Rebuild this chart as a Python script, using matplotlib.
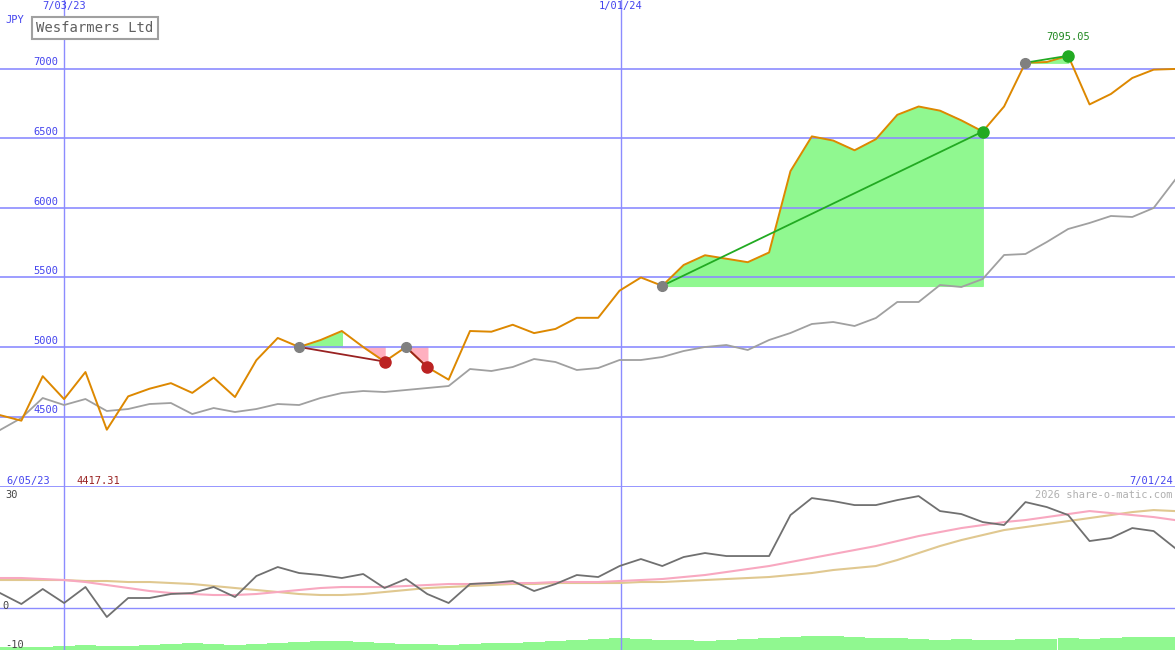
import matplotlib.pyplot as plt
import numpy as np

# price (orange) and index (grey), one point per ~1.6 weeks
price = [4510, 4470, 4790, 4625, 4820, 4405, 4645, 4700, 4740, 4670,
         4780, 4640, 4905, 5065, 5000, 5050, 5115, 5000, 4895, 5000,
         4855, 4765, 5115, 5110, 5160, 5100, 5130, 5210, 5210, 5405,
         5500, 5440, 5590, 5660, 5635, 5610, 5680, 6265, 6515, 6485,
         6415, 6495, 6670, 6730, 6700, 6630, 6550, 6730, 7045, 7050,
         7095, 6745, 6820, 6935, 6995, 7000]
index_px = [430, 418, 398, 405, 399, 411, 409, 404, 403, 414, 408, 412, 409, 404,
            405, 398, 393, 391, 392, 390, 388, 386, 369, 371, 367, 359, 362, 370,
            368, 360, 360, 357, 351, 347, 345, 350, 340, 333, 324, 322, 326, 318,
            302, 302, 285, 287, 279, 255, 254, 242, 229, 223, 216, 217, 208, 180]
index_line = [7000 - (y - 69) * 500 / 69.5 for y in index_px]

osc_px = [593, 604, 589, 603, 587, 617, 598, 598, 594, 593, 587, 597, 576, 567,
          573, 575, 578, 574, 588, 579, 594, 603, 584, 583, 581, 591, 584, 575,
          577, 566, 559, 566, 557, 553, 556, 556, 556, 515, 498, 501, 505, 505,
          500, 496, 511, 514, 522, 525, 502, 507, 515, 541, 538, 528, 531, 548]
pink_px = [578, 578, 579, 580, 582, 585, 588, 591, 593, 594, 595, 595, 594, 592,
           590, 588, 587, 587, 587, 586, 585, 584, 584, 583, 583, 583, 582, 582,
           582, 581, 580, 579, 577, 575, 572, 569, 566, 562, 558, 554, 550, 546,
           541, 536, 532, 528, 525, 522, 520, 517, 514, 511, 513, 515, 517, 520]
tan_px = [580, 580, 580, 580, 581, 581, 582, 582, 583, 584, 586, 588, 590, 592,
          594, 595, 595, 594, 592, 590, 588, 587, 586, 585, 584, 584, 583, 583,
          583, 583, 582, 582, 581, 580, 579, 578, 577, 575, 573, 570, 568, 566,
          560, 553, 546, 540, 535, 530, 527, 524, 521, 518, 515, 512, 510, 511]
volume = [3, 3, 3, 4, 5, 4, 4, 5, 6, 7, 6, 5, 6, 7, 8, 9, 9, 8, 7, 6, 6, 5, 6, 7,
          7, 8, 9, 10, 11, 12, 11, 10, 10, 9, 10, 11, 12, 13, 14, 14, 13, 12, 12,
          11, 10, 11, 10, 10, 11, 11, 12, 11, 12, 13, 13, 13]

def osc_val(y):
    return (604 - y) / 3.625

osc = [osc_val(y) for y in osc_px]
pink = [osc_val(y) for y in pink_px]
tan = [osc_val(y) for y in tan_px]

n = len(price)
x = np.arange(n)
grid_c = "#8c8cff"
lab_c = "#4444ee"
mono = "DejaVu Sans Mono"

fig = plt.figure(figsize=(11.75, 6.5), dpi=100)
ax = fig.add_axes([0, 163 / 650, 1, 487 / 650])
ax2 = fig.add_axes([0, 0, 1, 163 / 650])
for a in (ax, ax2):
    a.set_xlim(0, n - 1)
    a.axis("off")
    for xv in (3, 29.05):
        a.axvline(xv, color=grid_c, lw=1)

ax.set_ylim(3993, 7496)
for lv in (4500, 5000, 5500, 6000, 6500, 7000):
    ax.axhline(lv, color=grid_c, lw=1.2)
    ax.text(1.55, lv + 25, str(lv), color=lab_c, fontsize=7.5, family=mono)
ax.axhline(3993, color=grid_c, lw=2)

# trade fills
ax.fill_between(x[31:47], 5440, price[31:47], color="#90f890")
ax.fill_between(x[14:17], 5000, price[14:17], color="#90f890")
ax.fill_between(x[48:51], 7045, price[48:51], color="#90f890")
ax.fill_between(x[16:19], np.minimum(price[16:19], 5000), 5000, color="#ffb0c0")
ax.fill_between(x[19:21], np.minimum(price[19:21], 5000), 5000, color="#ffb0c0")

ax.plot(x, index_line, color="#a0a0a0", lw=1.3)
ax.plot(x, price, color="#dd8800", lw=1.4)

trades = [(14, 18, "#992222"), (19, 20, "#992222"), (31, 46, "#22aa22"), (48, 50, "#22aa22")]
for s, e, c in trades:
    ax.plot([s, e], [price[s], price[e]], color=c, lw=1.3)
    ax.plot(s, price[s], "o", color="#808080", ms=7)
    ax.plot(e, price[e], "o", color="#bb2222" if c == "#992222" else "#22aa22", ms=8)

ax.text(50, 7210, "7095.05", color="#228822", fontsize=7.5, ha="center", family=mono)
ax.text(0.25, 7330, "JPY", color=lab_c, fontsize=7.5, family=mono)
ax.text(3, 7430, "7/03/23", color=lab_c, fontsize=7.5, ha="center", family=mono)
ax.text(29.05, 7430, "1/01/24", color=lab_c, fontsize=7.5, ha="center", family=mono)
ax.text(1.7, 7265, "Wesfarmers Ltd", color="#606060", fontsize=10, family=mono,
        bbox=dict(facecolor="white", edgecolor="#a0a0a0", lw=1.5, pad=3))

ax2.set_ylim(-12.7, 32.3)
ax2.axhline(osc_val(608), color=grid_c, lw=1)
ax2.bar(x, [v / 3.625 for v in volume], bottom=-12.7, width=1.0, color="#90f890")
ax2.plot(x, tan, color="#e0c890", lw=1.5)
ax2.plot(x, pink, color="#f8a8c0", lw=1.5)
ax2.plot(x, osc, color="#707070", lw=1.3)
ax2.text(0.3, 33.2, "6/05/23", color=lab_c, fontsize=7.5, family=mono, clip_on=False)
ax2.text(3.6, 33.2, "4417.31", color="#992222", fontsize=7.5, family=mono, clip_on=False)
ax2.text(n - 1.1, 33.2, "7/01/24", color=lab_c, fontsize=7.5, ha="right", family=mono,
         clip_on=False)
ax2.text(n - 1.1, 29.3, "2026 share-o-matic.com", color="#b0b0b0", fontsize=7.5, ha="right",
         family=mono)
ax2.text(0.25, 29.3, "30", color="#444444", fontsize=7.5, family=mono)
ax2.text(0.1, -1.5, "0", color="#444444", fontsize=7.5, family=mono)
ax2.text(0.25, -12.2, "-10", color="#444444", fontsize=7.5, family=mono)

fig.savefig("out.png", dpi=100)
